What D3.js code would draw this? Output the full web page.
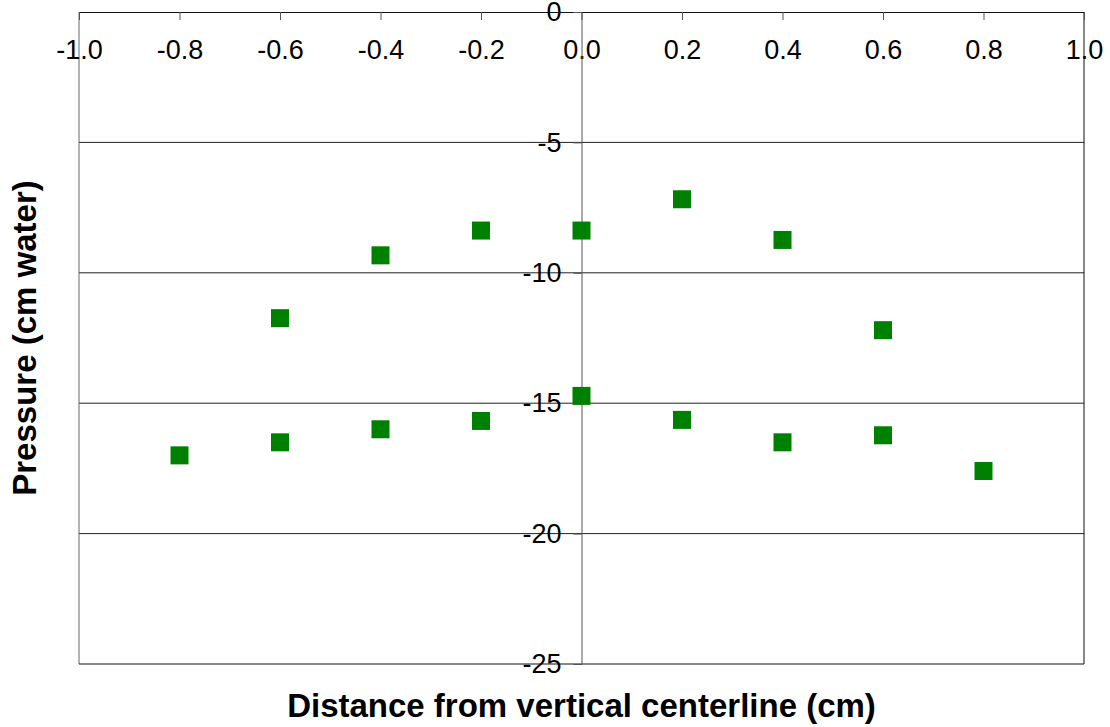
<!DOCTYPE html>
<html>
<head>
<meta charset="utf-8">
<script src="https://cdn.jsdelivr.net/npm/d3@7"></script>
<style>
  body { margin: 0; background: #fff; }
  svg { font-family: "Liberation Sans", Arial, sans-serif; }
</style>
</head>
<body>
<div id="chart"></div>
<script>
// distance from centerline (cm) and measured pressure (cm water), two runs
var distUpper = [-0.6, -0.4, -0.2, 0.0, 0.2, 0.4, 0.6];
var pressUpper = [-11.74, -9.33, -8.38, -8.38, -7.18, -8.74, -12.2];

var distLower = [-0.8, -0.6, -0.4, -0.2, 0.0, 0.2, 0.4, 0.6, 0.8];
var pressLower = [-17.0, -16.5, -16.0, -15.68, -14.72, -15.64, -16.5, -16.23, -17.6];

var xTicks = [-1.0, -0.8, -0.6, -0.4, -0.2, 0.0, 0.2, 0.4, 0.6, 0.8, 1.0];
var yTicks = [0, -5, -10, -15, -20, -25];

var margin = {top: 12, right: 26, bottom: 63, left: 79},
    W = 1110, H = 727,
    width = W - margin.left - margin.right,
    height = H - margin.top - margin.bottom;

var x = d3.scaleLinear().domain([-1, 1]).range([0, width]);
var y = d3.scaleLinear().domain([-25, 0]).range([height, 0]);

// plain hyphen for negatives, like the original
var fmtX = function(d) { return d3.format(".1f")(d).replace("\u2212", "-"); };
var fmtY = function(d) { return d3.format("d")(d).replace("\u2212", "-"); };

var svg = d3.select("#chart").append("svg")
  .attr("width", W)
  .attr("height", H)
  .append("g")
  .attr("transform", "translate(" + margin.left + "," + margin.top + ")");

// horizontal gridlines
svg.selectAll(".grid")
  .data(yTicks.filter(function(d) { return d !== 0 && d !== -25; }))
  .enter().append("line")
  .attr("x1", 0).attr("x2", width)
  .attr("y1", function(d) { return y(d); })
  .attr("y2", function(d) { return y(d); })
  .attr("stroke", "#222")
  .attr("stroke-width", 1);

// frame
svg.append("line").attr("x1", 0).attr("x2", 0).attr("y1", 0).attr("y2", height)
  .attr("stroke", "#666");
svg.append("line").attr("x1", width).attr("x2", width).attr("y1", 0).attr("y2", height)
  .attr("stroke", "#111");
svg.append("line").attr("x1", 0).attr("x2", width).attr("y1", height).attr("y2", height)
  .attr("stroke", "#111");

// x axis at the top, ticks pointing down
var xAxis = d3.axisBottom(x)
  .tickValues(xTicks)
  .tickSize(8)
  .tickPadding(20)
  .tickFormat(fmtX);

var gx = svg.append("g").attr("class", "x axis").call(xAxis);
gx.select(".domain").attr("stroke", "#111");
gx.selectAll(".tick line").attr("stroke", "#555");
gx.selectAll(".tick text")
  .style("font-size", "27px")
  .attr("fill", "#000");

// y axis through x = 0
var yAxis = d3.axisLeft(y)
  .tickValues(yTicks)
  .tickSize(8)
  .tickPadding(12)
  .tickFormat(fmtY);

var gy = svg.append("g")
  .attr("class", "y axis")
  .attr("transform", "translate(" + x(0) + ",0)")
  .call(yAxis);
gy.select(".domain").attr("stroke", "#555");
gy.selectAll(".tick line").attr("stroke", "#555");
gy.selectAll(".tick text")
  .style("font-size", "27px")
  .attr("fill", "#000");

var sq = 18;

function drawPoints(xs, ys) {
  svg.append("g").selectAll("rect")
    .data(xs.map(function(d, i) { return {x: d, y: ys[i]}; }))
    .enter().append("rect")
    .attr("x", function(d) { return x(d.x) - sq / 2; })
    .attr("y", function(d) { return y(d.y) - sq / 2; })
    .attr("width", sq)
    .attr("height", sq)
    .attr("fill", "#008000");
}

drawPoints(distUpper, pressUpper);
drawPoints(distLower, pressLower);

// axis titles
svg.append("text")
  .attr("x", width / 2)
  .attr("y", height + 53)
  .attr("text-anchor", "middle")
  .style("font-size", "33px")
  .style("font-weight", "bold")
  .text("Distance from vertical centerline (cm)");

svg.append("text")
  .attr("transform", "translate(" + (-43) + "," + (height / 2) + ") rotate(-90)")
  .attr("text-anchor", "middle")
  .style("font-size", "33px")
  .style("font-weight", "bold")
  .text("Pressure (cm water)");
</script>
</body>
</html>
